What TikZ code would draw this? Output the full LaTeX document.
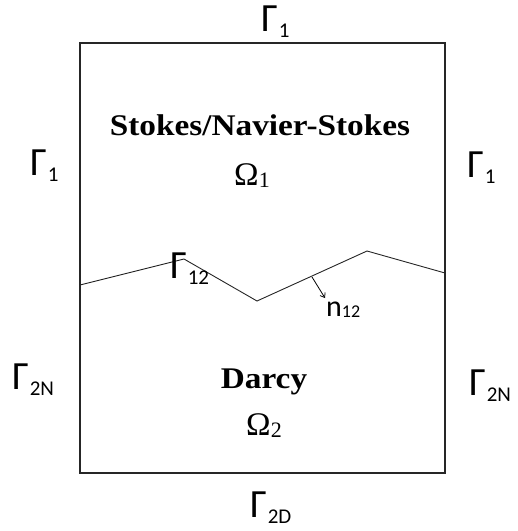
\documentclass[tikz,border=0pt]{standalone}
\usepackage{fontspec}
\setmainfont{Liberation Serif}
\newfontfamily\gfont{Carlito}
\usetikzlibrary{arrows.meta}
\newcommand{\Gam}[1]{{\gfont\fontsize{40}{40}\selectfont Γ}\kern1pt\raisebox{-6pt}{\gfont\fontsize{21}{21}\selectfont #1}}
\tikzset{
  glabel/.style={anchor=base west, inner sep=0pt},
  boldtext/.style={anchor=base, inner sep=0pt, font=\fontsize{30}{30}\selectfont\bfseries},
  omega/.style={anchor=base, inner sep=0pt},
  boundary/.style={line width=1.3pt, draw=black!85},
  iface/.style={line width=0.9pt, draw=black!85},
}
\begin{document}
\begin{tikzpicture}[x=1pt,y=-1pt]
\useasboundingbox (0,0) rectangle (518,531);
% box
\coordinate (tl) at (80,43);
\coordinate (tr) at (445,43);
\coordinate (br) at (445,473);
\coordinate (bl) at (80,473);
\draw[boundary] (tl) -- (tr) -- (br) -- (bl) -- cycle;
% interface
\coordinate (p0) at (80,285);
\coordinate (p1) at (184,259);
\coordinate (p2) at (257,301);
\coordinate (p3) at (367,251);
\coordinate (p4) at (445,273);
\draw[iface] (p0) -- (p1) -- (p2) -- (p3) -- (p4);
% normal
\coordinate (ns) at (312,277);
\coordinate (ne) at (325,298);
\draw[line width=0.8pt, -{Straight Barb[length=4pt,width=6pt]}] (ns) -- (ne);
% labels
\node[glabel] (gtop) at (261,31) {\Gam{1}};
\node[glabel] (gl1) at (30,175) {\Gam{1}};
\node[glabel] (gr1) at (467,177) {\Gam{1}};
\node[glabel] (gl2) at (12,389) {\Gam{2N}};
\node[glabel] (gr2) at (469,395) {\Gam{2N}};
\node[glabel] (gbot) at (250,517) {\Gam{2D}};
\node[glabel] (g12) at (170,278) {\Gam{12}};
\node[glabel] (n12) at (326,316) {{\gfont\fontsize{30}{30}\selectfont n}\raisebox{-1pt}{\gfont\fontsize{18}{18}\selectfont 12}};
\node[boldtext] (stokes) at (260,135) {\scalebox{1.11}[1]{Stokes/Navier-Stokes}};
\node[omega] (om1) at (252,185) {{\fontsize{33}{33}\selectfont Ω}\raisebox{-2pt}{\fontsize{22}{22}\selectfont 1}};
\node[boldtext] (darcy) at (264,388) {\scalebox{1.11}[1]{Darcy}};
\node[omega] (om2) at (264,435) {{\fontsize{33}{33}\selectfont Ω}\raisebox{-2pt}{\fontsize{22}{22}\selectfont 2}};
\end{tikzpicture}
\end{document}
